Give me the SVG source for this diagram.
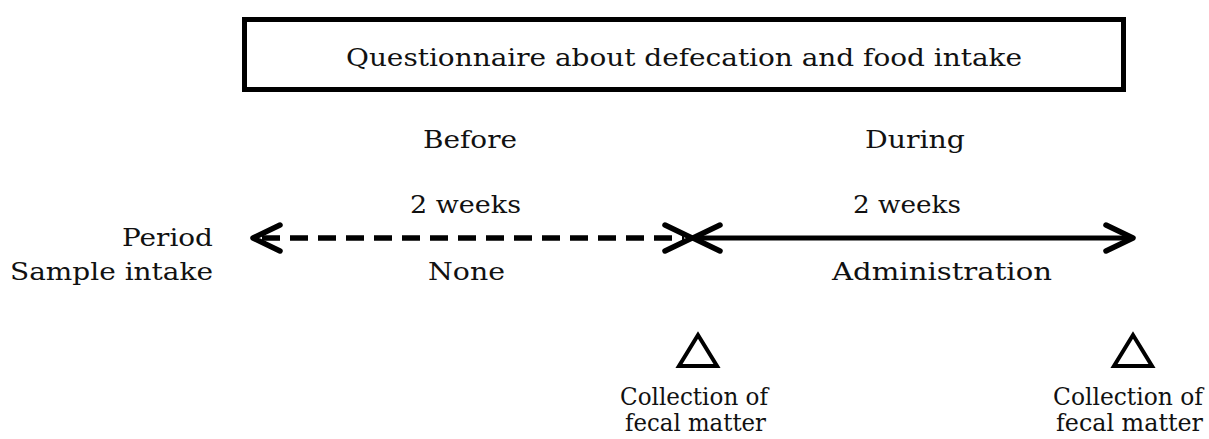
<svg xmlns="http://www.w3.org/2000/svg" width="1209" height="439" viewBox="0 0 1209 439">
<style>
  .t { font-family: "DejaVu Serif", "Liberation Serif", serif; font-size: 25px; fill: #111; }
  .s { font-family: "DejaVu Serif", "Liberation Serif", serif; font-size: 24px; fill: #111; }
  .ar { fill: none; stroke: #000; stroke-width: 5.5; stroke-linecap: round; stroke-linejoin: round; }
  .tri { fill: #fff; stroke: #000; stroke-width: 4; stroke-linejoin: miter; }
</style>
<rect width="1209" height="439" fill="#fff"/>
<g id="questionnaire">
  <rect x="244.5" y="19.5" width="879" height="70" fill="#fff" stroke="#000" stroke-width="5"/>
  <text class="t" x="346" y="66" textLength="676" lengthAdjust="spacingAndGlyphs">Questionnaire about defecation and food intake</text>
</g>
<g id="labels">
  <text class="t" x="122" y="246" textLength="91" lengthAdjust="spacingAndGlyphs">Period</text>
  <text class="t" x="10" y="280" textLength="203" lengthAdjust="spacingAndGlyphs">Sample intake</text>
</g>
<g id="before">
  <text class="t" x="423" y="148" textLength="94" lengthAdjust="spacingAndGlyphs">Before</text>
  <text class="t" x="410" y="213" textLength="111" lengthAdjust="spacingAndGlyphs">2 weeks</text>
  <text class="t" x="428" y="280" textLength="77" lengthAdjust="spacingAndGlyphs">None</text>
</g>
<g id="during">
  <text class="t" x="865" y="148" textLength="100" lengthAdjust="spacingAndGlyphs">During</text>
  <text class="t" x="853" y="213" textLength="108" lengthAdjust="spacingAndGlyphs">2 weeks</text>
  <text class="t" x="832" y="280" textLength="220" lengthAdjust="spacingAndGlyphs">Administration</text>
</g>
<g id="collection1">
  <polygon class="tri" points="698,335 679,366 717,366"/>
  <text class="s" x="620" y="405" textLength="148" lengthAdjust="spacingAndGlyphs">Collection of</text>
  <text class="s" x="625" y="431" textLength="141" lengthAdjust="spacingAndGlyphs">fecal matter</text>
</g>
<g id="collection2">
  <polygon class="tri" points="1133,335 1114,366 1152,366"/>
  <text class="s" x="1053" y="405" textLength="150" lengthAdjust="spacingAndGlyphs">Collection of</text>
  <text class="s" x="1056" y="431" textLength="147" lengthAdjust="spacingAndGlyphs">fecal matter</text>
</g>
<g id="connectors">
  <line x1="262" y1="238" x2="684" y2="238" stroke="#000" stroke-width="5.5" stroke-dasharray="18 10"/>
  <polyline class="ar" points="280,225 253,238 280,251"/>
  <polyline class="ar" points="665,225 692,238 665,251"/>
  <line x1="694" y1="238" x2="1131" y2="238" stroke="#000" stroke-width="5"/>
  <polyline class="ar" points="720,225 693,238 720,251"/>
  <polyline class="ar" points="1106,225 1133,238 1106,251"/>
</g>
</svg>
